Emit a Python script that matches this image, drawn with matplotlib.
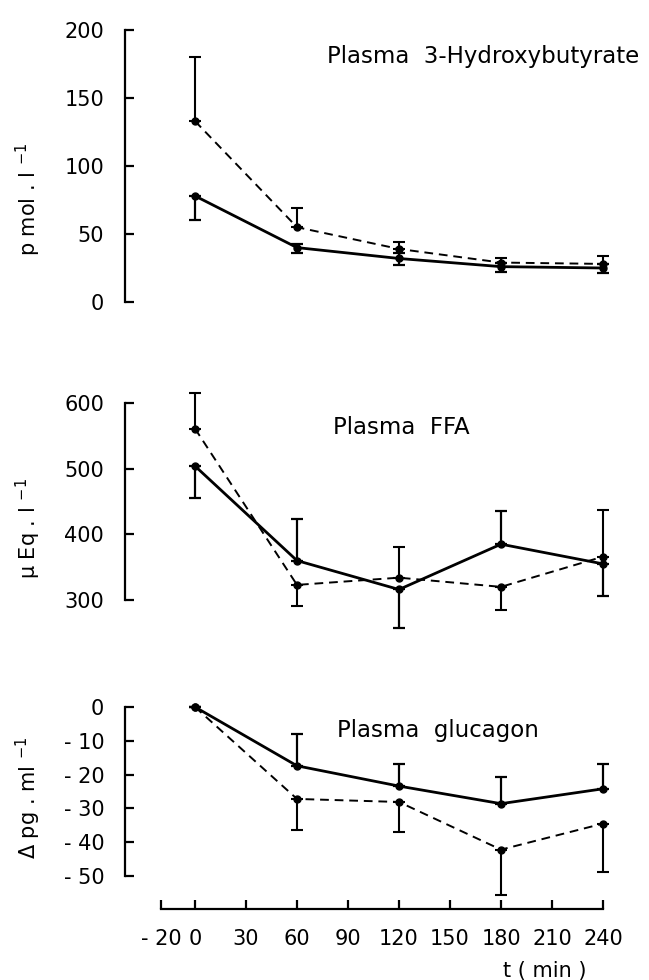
import matplotlib
matplotlib.use("Agg")
import matplotlib.pyplot as plt
import numpy as np

plt.rcParams['font.family'] = ['DejaVu Sans']

# ---------------- data ----------------
t = [0, 60, 120, 180, 240]

hb_solid = [78, 40, 32, 26, 25]
hb_solid_lo = [18, 4, 5, 4, 4]
hb_solid_hi = [0, 3, 4, 3, 3]
hb_dashed = [133, 55, 39, 29, 28]
hb_dashed_lo = [0, 0, 0, 0, 0]
hb_dashed_hi = [47, 14, 5, 3, 6]

ffa_solid = [504, 360, 316, 385, 355]
ffa_solid_lo = [49, 0, 58, 0, 49]
ffa_solid_hi = [0, 64, 0, 50, 0]
ffa_dashed = [561, 323, 334, 320, 366]
ffa_dashed_lo = [0, 32, 0, 35, 0]
ffa_dashed_hi = [54, 0, 47, 0, 71]

glu_solid = [0, -17.4, -23.4, -28.6, -24.2]
glu_solid_lo = [0, 0, 0, 0, 0]
glu_solid_hi = [0, 9.4, 6.5, 8.0, 7.4]
glu_dashed = [0, -27.2, -28.1, -42.2, -34.5]
glu_dashed_lo = [0, 9.3, 8.8, 13.4, 14.2]
glu_dashed_hi = [0, 0, 0, 0, 0]

x_ticks = [-20, 0, 30, 60, 90, 120, 150, 180, 210, 240]
x_ticklabels = ['- 20', '0', '30', '60', '90', '120', '150', '180', '210', '240']

hb_ticks = [0, 50, 100, 150, 200]
hb_ticklabels = ['0', '50', '100', '150', '200']
ffa_ticks = [300, 400, 500, 600]
ffa_ticklabels = ['300', '400', '500', '600']
glu_ticks = [0, -10, -20, -30, -40, -50]
glu_ticklabels = ['0', '- 10', '- 20', '- 30', '- 40', '- 50']

# ---------------- layout ----------------
W, H = 649, 980
fig = plt.figure(figsize=(W / 100, H / 100), dpi=100)

X0_PX, X240_PX = 195.0, 603.0
XL, XR = -41.2, 250.0
xs = (X240_PX - X0_PX) / 240.0
ax_left_px = X0_PX + XL * xs
ax_right_px = X0_PX + XR * xs


def make_axes(yA, pA, yB, pB, ylo, yhi):
    s = (pB - pA) / (yB - yA)
    top_px = pA + (yhi - yA) * s
    bot_px = pA + (ylo - yA) * s
    ax = fig.add_axes([ax_left_px / W, 1 - bot_px / H,
                       (ax_right_px - ax_left_px) / W, (bot_px - top_px) / H])
    ax.set_xlim(XL, XR)
    ax.set_ylim(ylo, yhi)
    ax.patch.set_alpha(0)
    for sp in ['top', 'right', 'bottom']:
        ax.spines[sp].set_visible(False)
    ax.spines['left'].set_linewidth(1.6)
    ax.tick_params(axis='y', direction='in', length=6.5, width=1.6,
                   labelsize=15, pad=15)
    ax.set_xticks([])
    return ax


ax1 = make_axes(200, 30, 0, 302, -10, 210)
ax2 = make_axes(600, 403, 300, 600, 240, 640)
ax3 = make_axes(0, 707, -50, 876, -59.8, 5)

ax1.spines['left'].set_bounds(0, 200)
ax1.set_yticks(hb_ticks)
ax1.set_yticklabels(hb_ticklabels)
ax2.spines['left'].set_bounds(300, 600)
ax2.set_yticks(ffa_ticks)
ax2.set_yticklabels(ffa_ticklabels)
ax3.spines['left'].set_bounds(-50, 0)
ax3.set_yticks(glu_ticks)
ax3.set_yticklabels(glu_ticklabels)

ax3.spines['bottom'].set_visible(True)
ax3.spines['bottom'].set_linewidth(1.6)
ax3.spines['bottom'].set_bounds(-20, 240)
ax3.set_xticks(x_ticks)
ax3.set_xticklabels(x_ticklabels)
ax3.tick_params(axis='x', direction='in', length=6.5, width=1.6,
                labelsize=15, pad=14)


def plot_pair(ax, s, slo, shi, d, dlo, dhi):
    ax.errorbar(t, d, yerr=[dlo, dhi], fmt='o', ms=5, color='black',
                ls=(0, (4.5, 3)), lw=1.4, elinewidth=1.5, capsize=4,
                capthick=1.5, zorder=3)
    ax.errorbar(t, s, yerr=[slo, shi], fmt='o', ms=5, color='black',
                ls='-', lw=2.0, elinewidth=1.6, capsize=4,
                capthick=1.6, zorder=4)


plot_pair(ax1, hb_solid, hb_solid_lo, hb_solid_hi,
          hb_dashed, hb_dashed_lo, hb_dashed_hi)
plot_pair(ax2, ffa_solid, ffa_solid_lo, ffa_solid_hi,
          ffa_dashed, ffa_dashed_lo, ffa_dashed_hi)
plot_pair(ax3, glu_solid, glu_solid_lo, glu_solid_hi,
          glu_dashed, glu_dashed_lo, glu_dashed_hi)

# titles
fig.text(327 / W, 1 - 57 / H, 'Plasma  3-Hydroxybutyrate', fontsize=16.5,
         ha='left', va='center')
fig.text(333 / W, 1 - 427 / H, 'Plasma  FFA', fontsize=16.5,
         ha='left', va='center')
fig.text(337 / W, 1 - 731 / H, 'Plasma  glucagon', fontsize=16.5,
         ha='left', va='center')

# y labels
fig.text(28 / W, 1 - 199 / H, 'p mol . l $^{-1}$', fontsize=15,
         rotation=90, ha='center', va='center')
fig.text(28 / W, 1 - 528 / H, '\u03bc Eq . l $^{-1}$', fontsize=15,
         rotation=90, ha='center', va='center')
fig.text(28 / W, 1 - 798 / H, '\u0394 pg . ml $^{-1}$', fontsize=15,
         rotation=90, ha='center', va='center')

fig.text(545 / W, 1 - 971 / H, 't ( min )', fontsize=15,
         ha='center', va='center')

fig.savefig('out.png', dpi=100)
